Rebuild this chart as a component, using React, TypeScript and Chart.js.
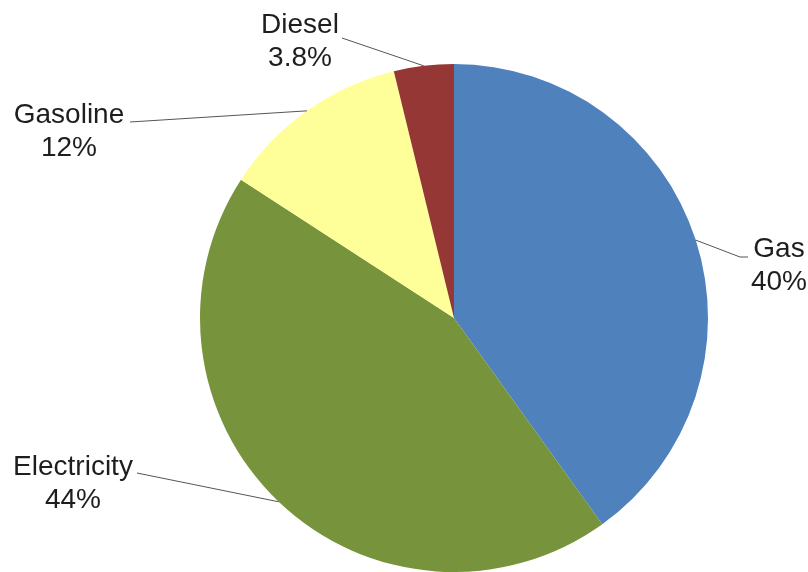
import React, { useEffect, useRef } from "react";
import { Chart, registerables } from "chart.js";

Chart.register(...registerables);

const categories = ["Gas", "Electricity", "Gasoline", "Diesel"];
const shares = [40, 44, 12, 3.8];
const shareLabels = ["40%", "44%", "12%", "3.8%"];
const sliceColors = ["#4F81BD", "#77933C", "#FFFF99", "#953735"];

// label layout: text centre x, first baseline y, leader-line end point
const labelLayout = [
  { x: 779, y: 257, lx: 748, ly: 257, elbow: 740 },
  { x: 73, y: 475, lx: 137, ly: 473, elbow: null },
  { x: 69, y: 123, lx: 130, ly: 122, elbow: null },
  { x: 300, y: 33, lx: 342, ly: 38, elbow: null },
];

const leaderPlugin = {
  id: "leaderLabels",
  afterDatasetsDraw(chart: any) {
    const ctx = chart.ctx;
    const meta = chart.getDatasetMeta(0);
    ctx.save();
    meta.data.forEach((arc: any, i: number) => {
      const p = arc.getProps(["x", "y", "startAngle", "endAngle", "outerRadius"], true);
      const mid = (p.startAngle + p.endAngle) / 2;
      const ax = p.x + Math.cos(mid) * p.outerRadius;
      const ay = p.y + Math.sin(mid) * p.outerRadius;
      const L = labelLayout[i];
      ctx.strokeStyle = "#555";
      ctx.lineWidth = 1;
      ctx.beginPath();
      ctx.moveTo(ax, ay);
      if (L.elbow !== null) {
        ctx.lineTo(L.elbow, L.ly);
      }
      ctx.lineTo(L.lx, L.ly);
      ctx.stroke();
      ctx.fillStyle = "#1e1e1e";
      ctx.font = "28px 'Liberation Sans', Arial, sans-serif";
      ctx.textAlign = "center";
      ctx.textBaseline = "alphabetic";
      ctx.fillText(categories[i], L.x, L.y);
      ctx.fillText(shareLabels[i], L.x, L.y + 33);
    });
    ctx.restore();
  },
};

export default function App() {
  const ref = useRef<HTMLCanvasElement>(null);
  useEffect(() => {
    document.body.style.margin = "0";
    const chart = new Chart(ref.current!, {
      type: "pie",
      data: {
        labels: categories,
        datasets: [
          {
            data: shares,
            backgroundColor: sliceColors,
            borderWidth: 0,
          },
        ],
      },
      options: {
        animation: false,
        responsive: false,
        layout: { padding: { top: 64, bottom: 0, left: 200, right: 100 } },
        plugins: {
          legend: { display: false },
          tooltip: { enabled: false },
        },
      },
      plugins: [leaderPlugin],
    });
    return () => chart.destroy();
  }, []);
  return (
    <div style={{ width: 808, height: 572, background: "#fff" }}>
      <canvas ref={ref} width={808} height={572} />
    </div>
  );
}
